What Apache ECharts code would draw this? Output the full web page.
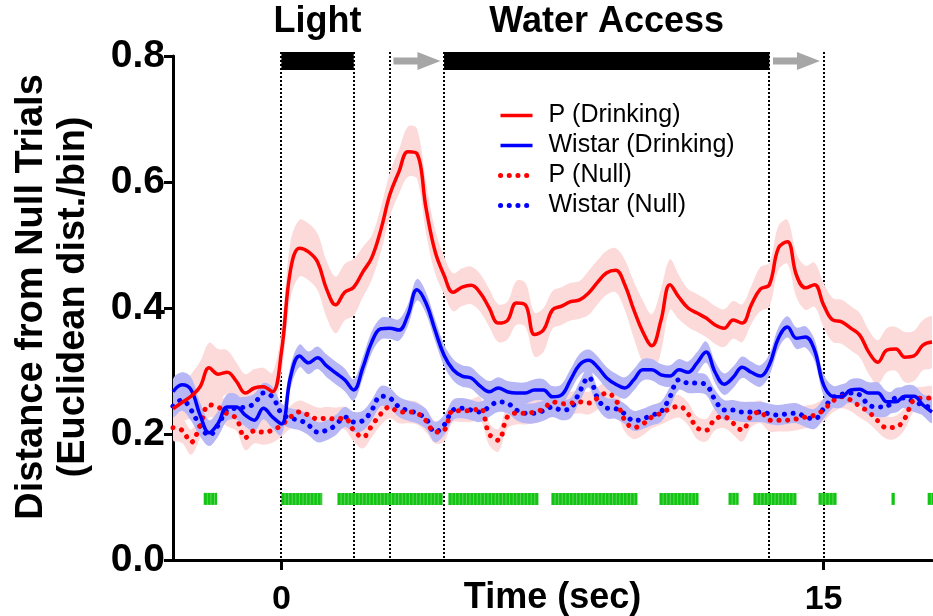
<!DOCTYPE html>
<html><head><meta charset="utf-8">
<script src="https://cdn.jsdelivr.net/npm/echarts@6/dist/echarts.min.js"></script>
<style>html,body{margin:0;padding:0;background:#fff}#c{width:933px;height:616px}</style>
</head><body><div id="c"></div>
<script>
// time bins (sec)
const times = [-3,-2.75,-2.5,-2.25,-2,-1.75,-1.5,-1.25,-1,-0.75,-0.5,-0.25,
0,0.25,0.5,0.75,1,1.25,1.5,1.75,2,2.25,2.5,2.75,3,3.25,3.5,3.75,4,4.25,4.5,4.75,
5,5.25,5.5,5.75,6,6.25,6.5,6.75,7,7.25,7.5,7.75,8,8.25,8.5,8.75,9,9.25,9.5,9.75,
10,10.25,10.5,10.75,11,11.25,11.5,11.75,12,12.25,12.5,12.75,13,13.25,13.5,13.75,
14,14.25,14.5,14.75,15,15.25,15.5,15.75,16,16.25,16.5,16.75,17,17.25,17.5,17.75,18];

const pDrinking = [0.24,0.25,0.26,0.275, 0.305,0.295,0.298,0.284, 0.265,0.273,0.275,0.267,
0.33,0.46,0.495,0.489, 0.473,0.43,0.405,0.425, 0.433,0.457,0.48,0.524, 0.58,0.616,0.648,0.645,
0.559,0.49,0.452,0.425, 0.433,0.436,0.424,0.40, 0.376,0.38,0.408,0.405, 0.358,0.365,0.397,0.403,
0.41,0.413,0.424,0.441, 0.456,0.46,0.437,0.397, 0.362,0.34,0.38,0.437, 0.417,0.40,0.392,0.384,
0.373,0.368,0.381,0.376, 0.405,0.43,0.437,0.495, 0.505,0.452,0.432,0.437, 0.405,0.381,0.378,0.368,
0.357,0.33,0.314,0.333, 0.335,0.322,0.324,0.341, 0.346];
const pDrinkingSem = [0.03,0.03,0.035,0.04, 0.04,0.04,0.035,0.03, 0.03,0.03,0.03,0.03,
0.035,0.045,0.045,0.045, 0.045,0.045,0.045,0.045, 0.045,0.04,0.035,0.035, 0.035,0.035,0.04,0.04,
0.04,0.035,0.03,0.03, 0.03,0.03,0.03,0.03, 0.03,0.03,0.035,0.035, 0.035,0.035,0.03,0.03,
0.03,0.03,0.035,0.035, 0.035,0.035,0.04,0.045, 0.05,0.05,0.05,0.04, 0.035,0.03,0.03,0.03,
0.03,0.03,0.03,0.03, 0.03,0.035,0.035,0.035, 0.035,0.035,0.035,0.035, 0.035,0.035,0.035,0.035,
0.035,0.035,0.035,0.035, 0.035,0.04,0.04,0.04, 0.04];

const wDrinking = [0.267,0.278,0.27,0.23, 0.202,0.217,0.243,0.243, 0.23,0.222,0.241,0.227,
0.216,0.29,0.324,0.313, 0.321,0.308,0.297,0.286, 0.27,0.305,0.346,0.367, 0.368,0.365,0.389,0.429,
0.408,0.365,0.325,0.302, 0.292,0.289,0.276,0.267, 0.273,0.267,0.265,0.265, 0.27,0.27,0.259,0.262,
0.286,0.31,0.317,0.306, 0.289,0.279,0.273,0.286, 0.302,0.302,0.294,0.292, 0.302,0.298,0.313,0.33,
0.298,0.279,0.29,0.306, 0.298,0.292,0.31,0.352, 0.37,0.352,0.354,0.333, 0.278,0.26,0.259,0.27,
0.271,0.265,0.265,0.251, 0.251,0.26,0.26,0.246, 0.235];
const wDrinkingSem = [0.02,0.02,0.02,0.02, 0.02,0.02,0.02,0.02, 0.018,0.018,0.018,0.018,
0.018,0.018,0.018,0.018, 0.018,0.018,0.018,0.018, 0.017,0.017,0.017,0.017, 0.017,0.017,0.017,0.017,
0.017,0.017,0.017,0.017, 0.017,0.017,0.017,0.017, 0.017,0.017,0.017,0.017, 0.017,0.017,0.017,0.017,
0.017,0.017,0.017,0.017, 0.017,0.017,0.017,0.017, 0.017,0.017,0.017,0.017, 0.017,0.017,0.017,0.017,
0.017,0.017,0.017,0.017, 0.017,0.017,0.017,0.017, 0.017,0.017,0.017,0.017, 0.017,0.017,0.017,0.017,
0.017,0.017,0.017,0.017, 0.017,0.017,0.017,0.017, 0.017];

const pNull = [0.21,0.206,0.187,0.214, 0.246,0.243,0.232,0.225, 0.194,0.205,0.203,0.206,
0.214,0.227,0.235,0.23, 0.224,0.225,0.224,0.225, 0.206,0.195,0.213,0.232, 0.243,0.235,0.235,0.233,
0.221,0.203,0.206,0.237, 0.237,0.237,0.241,0.2, 0.19,0.227,0.233,0.233, 0.235,0.24,0.251,0.248,
0.249,0.251,0.249,0.257, 0.265,0.254,0.222,0.21, 0.216,0.227,0.233,0.24, 0.244,0.232,0.21,0.206,
0.224,0.227,0.217,0.206, 0.229,0.235,0.222,0.222, 0.222,0.224,0.227,0.23, 0.238,0.252,0.259,0.254,
0.244,0.235,0.221,0.21, 0.211,0.225,0.254,0.257, 0.257];
const pNullSem = [0.02,0.02,0.02,0.02, 0.02,0.02,0.02,0.02, 0.02,0.02,0.02,0.02,
0.018,0.018,0.018,0.018, 0.018,0.018,0.018,0.018, 0.018,0.018,0.018,0.018, 0.018,0.018,0.018,0.018,
0.018,0.018,0.018,0.018, 0.018,0.018,0.018,0.018, 0.018,0.018,0.018,0.018, 0.018,0.018,0.018,0.018,
0.018,0.018,0.018,0.018, 0.018,0.018,0.018,0.018, 0.018,0.018,0.018,0.018, 0.018,0.018,0.018,0.018,
0.018,0.018,0.018,0.018, 0.018,0.018,0.018,0.018, 0.018,0.018,0.018,0.018, 0.018,0.018,0.018,0.018,
0.018,0.018,0.018,0.018, 0.018,0.018,0.018,0.018, 0.018];

const wNull = [0.244,0.254,0.238,0.213, 0.198,0.214,0.238,0.241, 0.243,0.248,0.265,0.259,
0.233,0.225,0.222,0.214, 0.203,0.206,0.214,0.227, 0.219,0.221,0.238,0.26, 0.257,0.243,0.237,0.233,
0.224,0.203,0.214,0.238, 0.241,0.238,0.235,0.243, 0.251,0.249,0.238,0.233, 0.233,0.237,0.243,0.238,
0.241,0.267,0.29,0.257, 0.241,0.24,0.232,0.221, 0.224,0.23,0.235,0.259, 0.286,0.281,0.281,0.278,
0.254,0.238,0.238,0.235, 0.235,0.235,0.232,0.23, 0.232,0.233,0.227,0.224, 0.24,0.257,0.263,0.265,
0.262,0.246,0.243,0.244, 0.257,0.257,0.251,0.246, 0.241];
const wNullSem = [0.017,0.017,0.017,0.017, 0.017,0.017,0.017,0.017, 0.016,0.016,0.016,0.016,
0.016,0.016,0.016,0.016, 0.016,0.016,0.016,0.016, 0.016,0.016,0.016,0.016, 0.016,0.016,0.016,0.016,
0.016,0.016,0.016,0.016, 0.016,0.016,0.016,0.016, 0.016,0.016,0.016,0.016, 0.016,0.016,0.016,0.016,
0.016,0.016,0.016,0.016, 0.016,0.016,0.016,0.016, 0.016,0.016,0.016,0.016, 0.016,0.016,0.016,0.016,
0.016,0.016,0.016,0.016, 0.016,0.016,0.016,0.016, 0.016,0.016,0.016,0.016, 0.016,0.016,0.016,0.016,
0.016,0.016,0.016,0.016, 0.016,0.016,0.016,0.016, 0.016];

const xTickValues = [0, 15];
const eventLines = [0, 2, 3, 4.5, 13.5, 15];
const eventBars = [[0, 2], [4.5, 13.5]];
const eventTitles = ['Light', 'Water Access'];
const eventArrows = [[3.1, 4.4], [13.6, 14.9]];
const sigSegments = [[-2.15,-1.78],[0,1.13],[1.55,4.46],[4.62,7.11],[7.47,9.85],[10.46,11.54],
  [12.37,12.65],[13.06,14.25],[14.86,15.36],[16.88,16.97],[17.88,18.05]];

const FONT = '"Liberation Sans", Arial, Helvetica, sans-serif';
const RED = '#ff0000', BLUE = '#0000ff';
const PINK = '#fddada', LBLUE = '#b7b7f6';
const SMOOTH = 0.4;

function band(mean, sem, color) {
  return { type: 'custom', silent: true, z: 2, clip: true,
    data: times.map((t, i) => [t, mean[i] - sem[i], mean[i] + sem[i]]),
    renderItem: (params, api) => {
      if (params.dataIndexInside !== 0) return null;
      const n = params.dataInsideLength;
      const up = [], lo = [];
      for (let i = 0; i < n; i++) {
        const t = api.value(0, i);
        lo.push(api.coord([t, api.value(1, i)]));
        up.push(api.coord([t, api.value(2, i)]));
      }
      return { type: 'polygon', shape: { points: up.concat(lo.reverse()), smooth: 0.35 },
        style: { fill: color } };
    } };
}
function mainLine(name, arr, color, dotted) {
  return { name, type: 'line', symbol: 'none', smooth: SMOOTH, z: 4,
    data: times.map((t, i) => [t, arr[i]]),
    itemStyle: { color },
    lineStyle: dotted ? { color, width: 5, type: [0.1, 8.6], cap: 'round' } : { color, width: 3.5 } };
}

const chart = echarts.init(document.getElementById('c'));
const option = {
  animation: false,
  backgroundColor: '#fff',
  grid: { left: 173, right: 1, top: 56, bottom: 56, outerBoundsMode: 'none', containLabel: false },
  legend: {
    left: 498, top: 103, orient: 'vertical', padding: 0, itemGap: 5,
    itemWidth: 32, itemHeight: 14, selectedMode: false,
    itemStyle: { opacity: 0 },
    textStyle: { fontFamily: FONT, fontSize: 25, color: '#000', lineHeight: 24, padding: [0, 0, 0, 11] },
    data: [
      { name: 'P (Drinking)', lineStyle: { width: 3.5 } },
      { name: 'Wistar (Drinking)', lineStyle: { width: 3.5 } },
      { name: 'P (Null)', lineStyle: { width: 5 } },
      { name: 'Wistar (Null)', lineStyle: { width: 5 } }
    ]
  },
  xAxis: {
    type: 'value', min: -3, max: 18,
    name: 'Time (sec)', nameLocation: 'middle', nameGap: 20, nameMoveOverlap: false,
    nameTextStyle: { fontFamily: FONT, fontSize: 36, fontWeight: 'bold', color: '#000' },
    axisLine: { show: true, onZero: false, lineStyle: { color: '#000', width: 3 } },
    axisTick: { show: true, customValues: xTickValues, length: 10, lineStyle: { color: '#000', width: 3 } },
    axisLabel: { customValues: xTickValues, margin: 23, fontFamily: FONT, fontSize: 34, fontWeight: 'bold', color: '#000' },
    splitLine: { show: false }
  },
  yAxis: {
    type: 'value', min: 0, max: 0.8, interval: 0.2,
    name: 'Distance from Null Trials\n(Euclidean dist./bin)', nameLocation: 'middle', nameRotate: 90, nameGap: 78,
    nameMoveOverlap: false,
    nameTextStyle: { fontFamily: FONT, fontSize: 38, fontWeight: 'bold', color: '#000', lineHeight: 42, padding: [0, 0, 0, 22] },
    axisLine: { show: true, onZero: false, lineStyle: { color: '#000', width: 3 } },
    axisTick: { show: true, length: 9, lineStyle: { color: '#000', width: 3 } },
    axisLabel: { margin: 8, fontFamily: FONT, fontSize: 39, fontWeight: 'bold', color: '#000',
      formatter: v => v.toFixed(1) },
    splitLine: { show: false }
  },
  series: [
    // event dotted lines
    { type: 'custom', silent: true, z: 1, data: eventLines.map(t => [t]),
      renderItem: (p, api) => {
        const t = api.value(0);
        const top = api.coord([t, 0.8]); const bot = api.coord([t, 0]);
        const x = Math.round(top[0]);
        return { type: 'line', shape: { x1: x, y1: top[1] - 4, x2: x, y2: bot[1] },
          style: { stroke: '#000', lineWidth: 2, lineDash: [2, 2] } };
      } },
    band(pDrinking, pDrinkingSem, PINK),
    band(pNull, pNullSem, PINK),
    band(wDrinking, wDrinkingSem, LBLUE),
    band(wNull, wNullSem, LBLUE),
    mainLine('Wistar (Null)', wNull, BLUE, true),
    mainLine('P (Null)', pNull, RED, true),
    mainLine('Wistar (Drinking)', wDrinking, BLUE, false),
    mainLine('P (Drinking)', pDrinking, RED, false),
    // significance marks
    { type: 'custom', silent: true, z: 5, data: sigSegments,
      renderItem: (p, api) => {
        const a = api.coord([api.value(0), 0.097]); const b = api.coord([api.value(1), 0.097]);
        const w = b[0] - a[0];
        const children = [{ type: 'rect', shape: { x: a[0], y: a[1] - 6, width: w, height: 12 },
          style: { fill: '#14c414' } }];
        for (let x = a[0] + 3.6; x < b[0] - 1; x += 3.6) {
          children.push({ type: 'line', shape: { x1: x, y1: a[1] - 6, x2: x, y2: a[1] + 6 },
            style: { stroke: 'rgba(255,255,255,0.45)', lineWidth: 0.7 } });
        }
        return { type: 'group', children };
      } },
    // event bars
    { type: 'custom', silent: true, z: 6, data: eventBars,
      renderItem: (p, api) => {
        const a = api.coord([api.value(0), 0.8]); const b = api.coord([api.value(1), 0.8]);
        return { type: 'rect', shape: { x: a[0], y: a[1] - 4, width: b[0] - a[0], height: 18 },
          style: { fill: '#000' } };
      } },
    // arrows
    { type: 'custom', silent: true, z: 6, data: eventArrows,
      renderItem: (p, api) => {
        const a = api.coord([api.value(0), 0.8]); const b = api.coord([api.value(1), 0.8]);
        const cy = a[1] + 5, hx = b[0] - 23;
        return { type: 'polygon', shape: { points: [
          [a[0], cy - 3.5], [hx, cy - 3.5], [hx, cy - 9], [b[0], cy], [hx, cy + 9], [hx, cy + 3.5], [a[0], cy + 3.5]] },
          style: { fill: '#a6a6a6' } };
      } },
    // event titles
    { type: 'custom', silent: true, z: 6, data: eventBars,
      renderItem: (p, api) => {
        const a = api.coord([(api.value(0) + api.value(1)) / 2, 0.8]);
        return { type: 'text', x: a[0], y: a[1] - 34,
          style: { text: eventTitles[p.dataIndex], fontFamily: FONT, fontSize: 36, fontWeight: 'bold',
            fill: '#000', align: 'center', verticalAlign: 'middle' } };
      } }
  ]
};
chart.setOption(option);
</script></body></html>
